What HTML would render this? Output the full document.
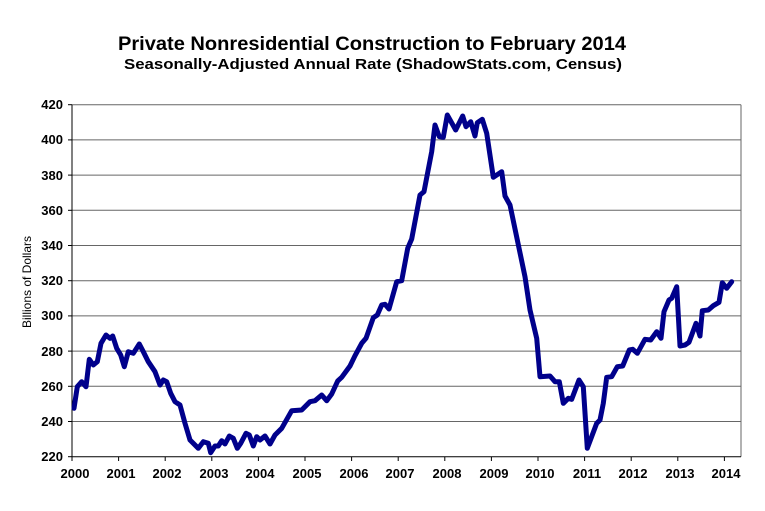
<!DOCTYPE html>
<html><head><meta charset="utf-8"><style>
body{margin:0;background:#fff;}
svg text{font-family:"Liberation Sans",Arial,sans-serif;font-weight:bold;fill:#000;}
</style></head><body>
<svg width="765" height="506" viewBox="0 0 765 506" xmlns="http://www.w3.org/2000/svg">
<rect width="765" height="506" fill="#fff"/>
<text x="372" y="50" font-size="19" text-anchor="middle" textLength="508" lengthAdjust="spacingAndGlyphs">Private Nonresidential Construction to February 2014</text>
<text x="373" y="69" font-size="15" text-anchor="middle" textLength="498" lengthAdjust="spacingAndGlyphs">Seasonally-Adjusted Annual Rate (ShadowStats.com, Census)</text>
<g stroke="#666" stroke-width="1">
<line x1="72" y1="104.7" x2="741" y2="104.7"/>
<line x1="72" y1="139.9" x2="741" y2="139.9"/>
<line x1="72" y1="175.1" x2="741" y2="175.1"/>
<line x1="72" y1="210.3" x2="741" y2="210.3"/>
<line x1="72" y1="245.5" x2="741" y2="245.5"/>
<line x1="72" y1="280.7" x2="741" y2="280.7"/>
<line x1="72" y1="315.9" x2="741" y2="315.9"/>
<line x1="72" y1="351.1" x2="741" y2="351.1"/>
<line x1="72" y1="386.3" x2="741" y2="386.3"/>
<line x1="72" y1="421.5" x2="741" y2="421.5"/>
<line x1="741" y1="104.7" x2="741" y2="456.7"/>
</g>
<g stroke="#000" stroke-width="1">
<line x1="72" y1="104.7" x2="72" y2="456.7"/>
<line x1="72" y1="456.7" x2="741" y2="456.7"/>
<line x1="68" y1="104.7" x2="72" y2="104.7"/><line x1="68" y1="139.9" x2="72" y2="139.9"/><line x1="68" y1="175.1" x2="72" y2="175.1"/><line x1="68" y1="210.3" x2="72" y2="210.3"/><line x1="68" y1="245.5" x2="72" y2="245.5"/><line x1="68" y1="280.7" x2="72" y2="280.7"/><line x1="68" y1="315.9" x2="72" y2="315.9"/><line x1="68" y1="351.1" x2="72" y2="351.1"/><line x1="68" y1="386.3" x2="72" y2="386.3"/><line x1="68" y1="421.5" x2="72" y2="421.5"/><line x1="68" y1="456.7" x2="72" y2="456.7"/>
<line x1="72" y1="456.7" x2="72" y2="461"/><line x1="118.6" y1="456.7" x2="118.6" y2="461"/><line x1="165.2" y1="456.7" x2="165.2" y2="461"/><line x1="211.8" y1="456.7" x2="211.8" y2="461"/><line x1="258.4" y1="456.7" x2="258.4" y2="461"/><line x1="305" y1="456.7" x2="305" y2="461"/><line x1="351.6" y1="456.7" x2="351.6" y2="461"/><line x1="398.2" y1="456.7" x2="398.2" y2="461"/><line x1="444.8" y1="456.7" x2="444.8" y2="461"/><line x1="491.4" y1="456.7" x2="491.4" y2="461"/><line x1="538" y1="456.7" x2="538" y2="461"/><line x1="584.6" y1="456.7" x2="584.6" y2="461"/><line x1="631.2" y1="456.7" x2="631.2" y2="461"/><line x1="677.8" y1="456.7" x2="677.8" y2="461"/><line x1="724.4" y1="456.7" x2="724.4" y2="461"/>
</g>
<g font-size="13" text-anchor="end">
<text x="63" y="109">420</text><text x="63" y="144">400</text><text x="63" y="180">380</text><text x="63" y="215">360</text><text x="63" y="250">340</text><text x="63" y="285">320</text><text x="63" y="320">300</text><text x="63" y="356">280</text><text x="63" y="391">260</text><text x="63" y="426">240</text><text x="63" y="461">220</text>
</g>
<g font-size="13" text-anchor="middle">
<text x="75" y="478">2000</text><text x="121" y="478">2001</text><text x="167" y="478">2002</text><text x="214" y="478">2003</text><text x="260" y="478">2004</text><text x="307" y="478">2005</text><text x="354" y="478">2006</text><text x="400" y="478">2007</text><text x="447" y="478">2008</text><text x="494" y="478">2009</text><text x="540" y="478">2010</text><text x="587" y="478">2011</text><text x="633" y="478">2012</text><text x="680" y="478">2013</text><text x="726" y="478">2014</text>
</g>
<text transform="translate(31,282) rotate(-90)" font-size="12" text-anchor="middle" style="font-weight:normal">Billions  of Dollars</text>
<polyline fill="none" stroke="#00008B" stroke-width="5" stroke-linejoin="round" stroke-linecap="round" points="
74,408.3 77.3,386.7 81.7,381.7 86,386.7 89.3,359.3 93.3,365 97.3,361.7 101,343.3 106,335 110,338.3 112.7,336 116.7,348.3 120.7,355 124.3,366.7 128.3,351.7 133.3,353.3 139.3,344 143.3,351.7 148.3,361.7 155,371.7 160,385 163.3,380 166.7,381.7 170.7,393.3 175,401.7 180,405 185,423.3 190,440 198.3,448.3 203.3,441.7 208.3,443.3 210.7,452.7 215,446 218.3,446 221.7,440.7 225,444 229.3,436 233.3,438.3 237.3,448.3 240.7,443.3 246,433.3 249.3,435 253.3,446 256.7,436.7 260,440 265,436 270,444 275,435 281.7,428.3
291.7,410.7 301.7,410 310,401.7 315,400.7 321.7,395 326.7,400.7 331.7,394 337.7,381 341.7,377.3 350,366 355,355.7 361.7,343.3 366,338.3 373.3,317.7 377.3,315 381.7,305 385,304.3 389,309 396.7,281.7 401.7,280.7 407.7,248.3 411.7,239 420,195 424,191.7 431.7,151.7 435,125 439.3,136.7 443.3,137.3 447.3,115 455.7,130 462.7,116 466,126.7 470.7,121.7 475,136 477.3,122.7 482.3,119.3 486.7,133.3 493.3,177.3 501.7,171.7 505,196 510,205
525,276.7 530,310 536.7,338.3 540,376.7 550,376 555,381.7 559.3,381.7 563.3,403.3 568.3,398.3 571.7,399.3 579,380 583.3,386.7 587.3,448.3 596.7,423.3 600,420 603.3,403.3 606.7,377.3 611.7,376.7 617.3,366.7 622.7,366 629.3,350 632.7,349.3 637.3,353.3 645,339.3 650.7,340 656.7,331.7 661,338.3 664,311.7 669,300 671.7,298.3 676.7,286.7 680,346 685,345 689,342.3 691.7,335 696,323.3 700,336 702.3,310.7 708.3,310 713.3,305.7 719,302.3 722.3,282.7 726.7,288.3 731.7,281.7"/>
</svg>
</body></html>
